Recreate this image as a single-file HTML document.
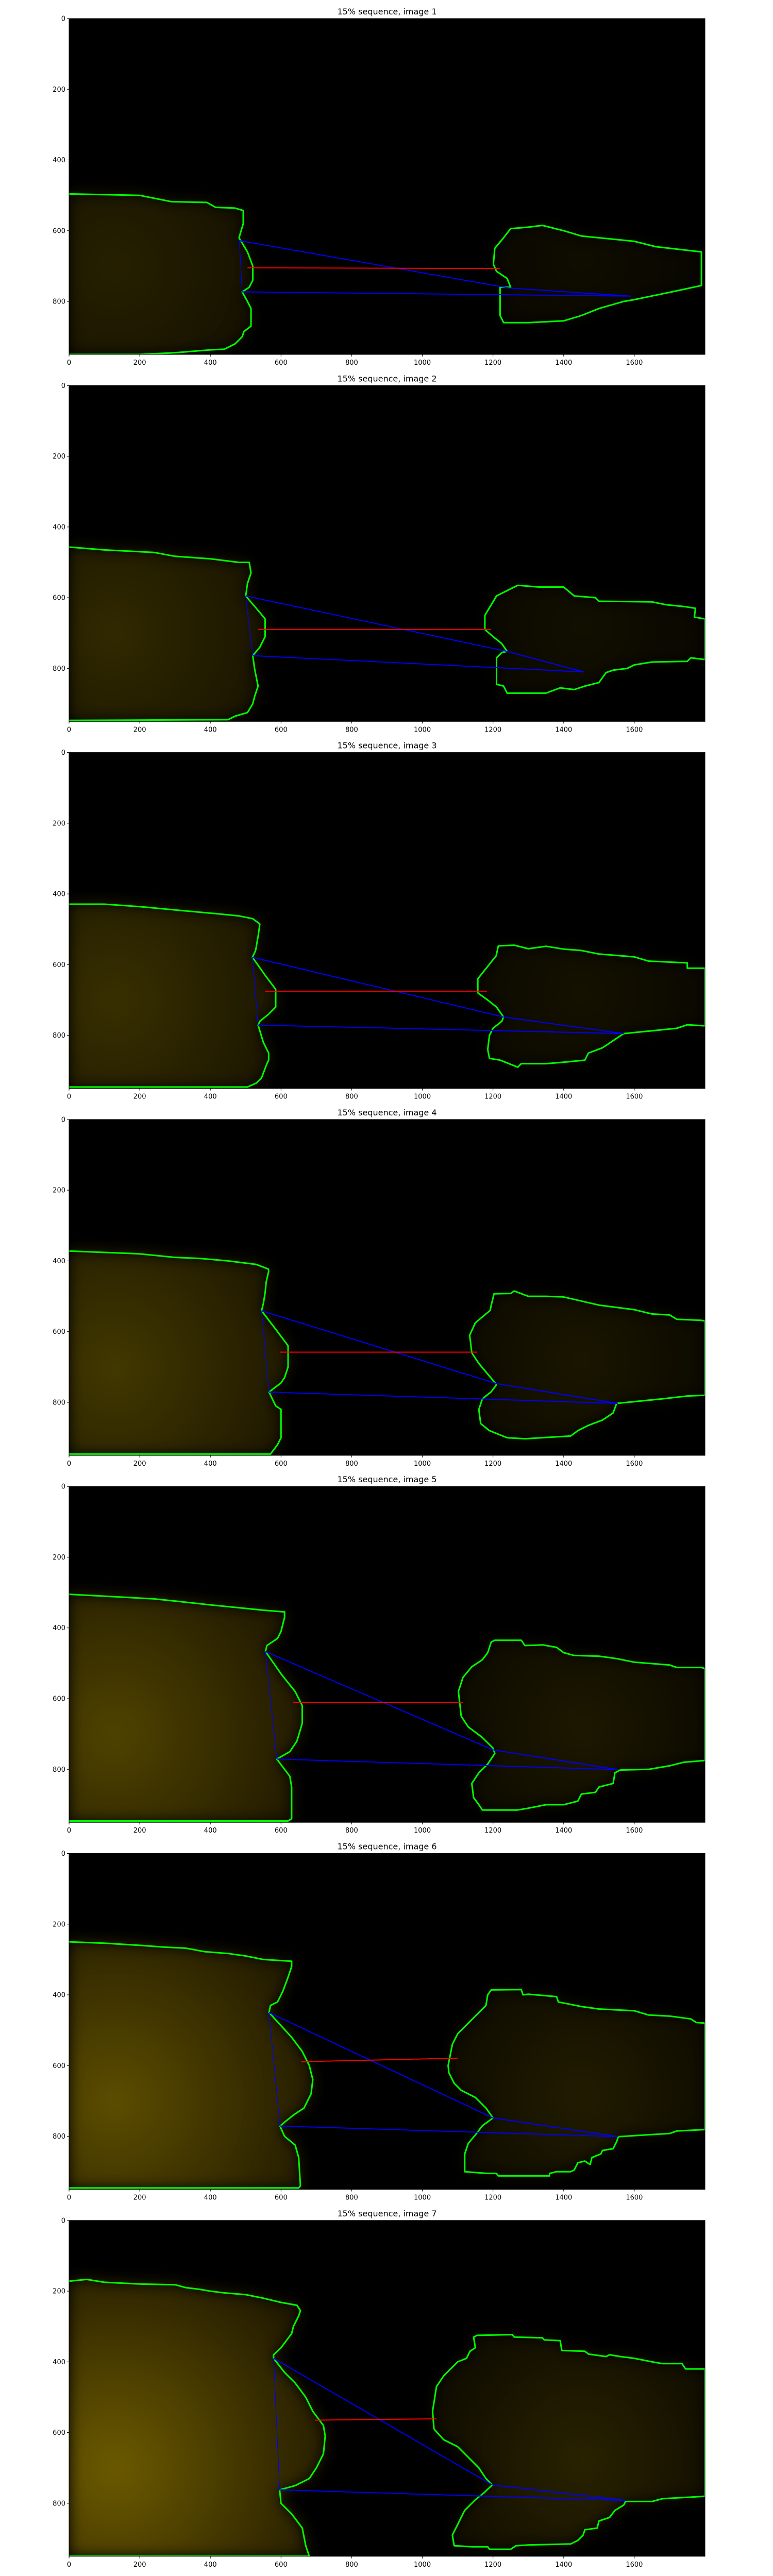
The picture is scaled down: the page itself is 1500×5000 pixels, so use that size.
<!DOCTYPE html>
<html><head><meta charset="utf-8"><style>
html,body{margin:0;padding:0;background:#fff;}
svg{display:block;}
text{font-family:"DejaVu Sans","Liberation Sans",sans-serif;fill:#000;}
</style></head><body>
<svg id="fig" width="1500" height="5000" viewBox="0 0 1500 5000" xmlns="http://www.w3.org/2000/svg">
<defs>
<filter id="blur" x="-20%" y="-20%" width="140%" height="140%"><feGaussianBlur stdDeviation="14"/></filter>
</defs>
</svg>
<script>
const NS = "http://www.w3.org/2000/svg";
const xTicks = [0,200,400,600,800,1000,1200,1400,1600];
const yTicks = [0,200,400,600,800];
const imageLabels = ["15% sequence, image 1","15% sequence, image 2","15% sequence, image 3","15% sequence, image 4","15% sequence, image 5","15% sequence, image 6","15% sequence, image 7"];
const glowLeft = [0.15,0.19,0.22,0.26,0.31,0.36,0.42];
const glowRight = [0.06,0.07,0.08,0.1,0.11,0.13,0.16];
// left object contours [x,y] in image pixels
const leftContours = [
[[0,496],[200,500],[290,518],[390,520],[415,534],[470,536],[493,543],[493,580],[481,620],[505,660],[520,700],[520,740],[510,760],[490,773],[505,800],[515,820],[515,870],[495,885],[490,900],[470,920],[440,935],[400,937],[300,945],[200,950],[0,950]],
[[0,457],[100,465],[240,472],[300,483],[400,490],[480,500],[510,500],[515,530],[505,560],[500,595],[530,630],[555,660],[555,710],[540,740],[520,764],[525,800],[535,850],[525,880],[520,900],[505,925],[470,935],[450,945],[0,947]],
[[0,429],[100,429],[200,436],[330,448],[420,456],[480,462],[520,470],[540,485],[535,520],[528,560],[519,579],[555,630],[585,670],[585,720],[565,740],[540,760],[535,771],[550,820],[565,850],[565,870],[560,880],[545,920],[530,935],[505,946],[0,946]],
[[0,372],[200,380],[300,390],[370,393],[450,400],[530,410],[564,423],[565,430],[558,460],[555,490],[550,520],[545,541],[590,600],[620,640],[620,700],[610,730],[600,745],[566,771],[585,810],[600,820],[600,900],[590,920],[570,946],[0,946]],
[[0,305],[150,313],[240,318],[300,324],[400,335],[470,342],[550,350],[610,355],[610,370],[600,410],[590,430],[560,450],[556,467],[600,530],[640,580],[660,620],[660,670],[645,720],[625,750],[588,771],[625,820],[630,850],[630,940],[620,946],[0,946]],
[[0,250],[100,254],[200,260],[270,265],[330,268],[385,278],[450,283],[500,290],[550,300],[630,305],[630,320],[620,350],[605,390],[590,420],[570,430],[566,450],[630,520],[660,560],[680,600],[690,640],[685,680],[665,720],[635,740],[610,760],[597,771],[610,800],[640,825],[650,860],[655,940],[650,946],[0,946]],
[[0,172],[50,167],[100,175],[200,180],[300,182],[330,190],[370,195],[400,200],[440,205],[500,210],[550,220],[600,232],[645,240],[655,255],[650,270],[635,300],[630,320],[615,340],[600,360],[579,380],[579,390],[610,430],[640,460],[670,500],[690,540],[720,580],[725,610],[720,660],[700,700],[680,730],[640,750],[596,762],[600,800],[630,830],[660,870],[670,920],[680,950],[0,950]]
];
// right object contours
const rightContours = [
[[1201,695],[1205,650],[1230,620],[1250,594],[1300,590],[1340,585],[1400,600],[1450,615],[1500,620],[1600,630],[1660,645],[1790,660],[1790,755],[1720,770],[1600,795],[1570,800],[1500,820],[1450,840],[1400,855],[1300,860],[1230,860],[1220,840],[1220,760],[1250,760],[1240,735],[1210,715],[1201,695]],
[[1177,690],[1177,650],[1210,595],[1250,575],[1270,565],[1330,570],[1400,570],[1430,595],[1490,600],[1500,610],[1650,612],[1690,620],[1740,625],[1773,630],[1770,655],[1800,660],[1800,775],[1760,770],[1750,780],[1650,782],[1600,790],[1580,800],[1540,805],[1520,812],[1500,840],[1460,850],[1430,860],[1390,855],[1350,870],[1240,870],[1230,850],[1210,845],[1210,770],[1225,755],[1240,752],[1225,730],[1200,710],[1177,690]],
[[1157,680],[1157,640],[1209,575],[1215,547],[1260,545],[1300,555],[1350,548],[1400,556],[1450,560],[1500,570],[1600,578],[1640,590],[1750,595],[1750,610],[1800,610],[1800,773],[1750,770],[1720,780],[1670,785],[1620,790],[1570,795],[1540,815],[1510,835],[1470,850],[1460,870],[1410,875],[1350,880],[1280,880],[1270,890],[1220,870],[1190,865],[1185,840],[1190,800],[1200,780],[1225,760],[1230,748],[1210,720],[1185,700],[1157,680]],
[[1140,660],[1134,610],[1150,575],[1192,540],[1195,525],[1203,493],[1250,492],[1260,485],[1300,500],[1350,500],[1400,502],[1500,525],[1600,538],[1650,550],[1700,553],[1720,565],[1790,568],[1800,570],[1800,780],[1750,782],[1680,790],[1550,803],[1540,830],[1510,850],[1470,865],[1440,880],[1420,895],[1290,903],[1240,900],[1190,880],[1165,860],[1160,820],[1170,790],[1195,770],[1210,750],[1185,720],[1160,690],[1140,660]],
[[1110,650],[1102,580],[1115,540],[1140,510],[1170,490],[1185,470],[1195,440],[1205,435],[1280,435],[1290,450],[1340,448],[1380,455],[1400,470],[1430,478],[1500,480],[1550,487],[1600,497],[1700,505],[1720,512],[1790,512],[1800,515],[1800,775],[1740,780],[1700,790],[1640,800],[1560,802],[1545,810],[1540,840],[1500,850],[1490,865],[1450,870],[1440,890],[1400,900],[1350,900],[1300,910],[1270,915],[1170,915],[1160,900],[1145,880],[1140,840],[1160,810],[1185,785],[1205,755],[1200,740],[1170,710],[1130,680],[1110,650]],
[[1075,620],[1073,600],[1085,540],[1100,510],[1130,480],[1160,450],[1180,430],[1185,400],[1195,386],[1280,385],[1285,400],[1300,398],[1380,405],[1385,420],[1410,425],[1450,433],[1500,440],[1600,445],[1640,457],[1700,460],[1760,468],[1775,478],[1800,480],[1800,781],[1720,785],[1700,792],[1650,795],[1555,801],[1550,815],[1540,835],[1510,840],[1505,850],[1480,860],[1475,880],[1460,870],[1440,875],[1430,895],[1420,900],[1380,900],[1360,905],[1360,912],[1215,912],[1210,905],[1185,905],[1120,900],[1120,850],[1130,820],[1155,790],[1170,770],[1200,748],[1180,720],[1150,690],[1110,670],[1090,650],[1075,620]],
[[1033,590],[1029,540],[1040,470],[1060,440],[1080,420],[1100,400],[1125,390],[1135,370],[1150,360],[1145,330],[1155,325],[1255,323],[1260,330],[1340,332],[1345,338],[1390,340],[1395,368],[1460,370],[1470,378],[1520,385],[1530,380],[1560,385],[1600,390],[1650,400],[1680,405],[1735,405],[1745,420],[1800,420],[1800,780],[1770,782],[1680,787],[1650,795],[1575,795],[1570,805],[1545,820],[1530,840],[1500,850],[1495,870],[1460,875],[1455,890],[1440,905],[1420,915],[1300,918],[1265,920],[1250,930],[1190,930],[1185,923],[1140,923],[1090,920],[1085,890],[1100,860],[1120,820],[1150,790],[1175,770],[1198,748],[1180,730],[1160,700],[1130,670],[1100,640],[1060,620],[1033,590]]
];
// measurement points: left-top, mid, right, left-bottom
const leftTop = [[482,628],[500,595],[519,579],[545,541],[556,467],[566,450],[579,390]];
const midPt = [[1245,762],[1240,752],[1230,748],[1210,747],[1200,745],[1200,748],[1198,748]];
const rightPt = [[1590,785],[1457,810],[1570,795],[1553,803],[1555,801],[1555,801],[1577,792]];
const leftBottom = [[490,773],[520,764],[535,771],[566,771],[588,771],[597,771],[596,762]];
const redStart = [[505,705],[535,690],[555,675],[597,658],[634,611],[657,589],[696,565]];
const redEnd = [[1220,707],[1195,690],[1183,675],[1155,658],[1114,611],[1100,579],[1040,561]];

const AX_L = 134, AX_W = 1234, AX_H = 652, TOP0 = 36, STEP = 712.3, XMAX = 1800, YMAX = 950;
const svg = document.getElementById('fig');
function el(tag, attrs, parent){const e=document.createElementNS(NS,tag);for(const k in attrs)e.setAttribute(k,attrs[k]);(parent||svg).appendChild(e);return e;}
function pts(arr,sx,sy){return arr.map(p=>sx(p[0]).toFixed(1)+','+sy(p[1]).toFixed(1)).join(' ');}

imageLabels.forEach((label,i)=>{
  const top = TOP0 + STEP*i;
  const sx = v => AX_L + v/XMAX*AX_W;
  const sy = v => top + v/YMAX*AX_H;
  const g = el('g',{});
  
  
  const clipId='clip'+i;
  const cp=el('clipPath',{id:clipId},g);
  el('rect',{x:AX_L,y:top,width:AX_W,height:AX_H},cp);
  const t=el('text',{x:AX_L+AX_W/2,y:top-8,'font-size':16,'text-anchor':'middle'},g);
  t.textContent=label;
  
  
  const plot=el('g',{'clip-path':'url(#'+clipId+')'},g);
  
  
  el('rect',{x:AX_L,y:top,width:AX_W,height:AX_H,fill:'#000'},plot);
  const gl='gl'+i, gr='gr'+i;
  const defs=el('defs',{},plot);
  const lg=el('radialGradient',{id:gl,cx:sx(130),cy:sy(700),r:AX_W*0.42,gradientUnits:'userSpaceOnUse'},defs);
  el('stop',{offset:'0','stop-color':'rgb(255,215,0)','stop-opacity':glowLeft[i]},lg);
  el('stop',{offset:'1','stop-color':'rgb(255,200,0)','stop-opacity':glowLeft[i]*0.2},lg);
  const rg=el('radialGradient',{id:gr,cx:sx(1450),cy:sy(680),r:AX_W*0.3,gradientUnits:'userSpaceOnUse'},defs);
  el('stop',{offset:'0','stop-color':'rgb(255,215,0)','stop-opacity':glowRight[i]},rg);
  el('stop',{offset:'1','stop-color':'rgb(255,200,0)','stop-opacity':glowRight[i]*0.25},rg);
  const lb=el('polygon',{points:pts(leftContours[i],sx,sy),fill:'url(#'+gl+')',filter:'url(#blur)'},plot);
  
  
  const rb=el('polygon',{points:pts(rightContours[i],sx,sy),fill:'url(#'+gr+')',filter:'url(#blur)'},plot);
  
  
  const lc=el('polyline',{points:pts(leftContours[i],sx,sy),fill:'none',stroke:'#00ff00','stroke-width':3,'stroke-linejoin':'round'},plot);
  
  
  const rc=el('polyline',{points:pts(rightContours[i],sx,sy),fill:'none',stroke:'#00ff00','stroke-width':3,'stroke-linejoin':'round'},plot);
  
  
  const b1=el('polyline',{points:pts([leftTop[i],midPt[i],rightPt[i],leftBottom[i]],sx,sy),fill:'none',stroke:'#0000ff','stroke-width':2},plot);
  
  
  const b2=el('line',{x1:sx(leftTop[i][0]),y1:sy(leftTop[i][1]),x2:sx(leftBottom[i][0]),y2:sy(leftBottom[i][1]),stroke:'#0000ff','stroke-width':1.2},plot);
  
  
  const r=el('line',{x1:sx(redStart[i][0]),y1:sy(redStart[i][1]),x2:sx(redEnd[i][0]),y2:sy(redEnd[i][1]),stroke:'#ff0000','stroke-width':2},plot);
  
  
  el('rect',{x:AX_L,y:top,width:AX_W,height:AX_H,fill:'none',stroke:'#000','stroke-width':1},g);
  xTicks.forEach(v=>{
    el('line',{x1:sx(v),y1:top+AX_H,x2:sx(v),y2:top+AX_H+4,stroke:'#000','stroke-width':1},g);
    const tx=el('text',{x:sx(v),y:top+AX_H+20,'font-size':13,'text-anchor':'middle'},g);
    tx.textContent=v;
    
    
  });
  yTicks.forEach(v=>{
    el('line',{x1:AX_L-4,y1:sy(v),x2:AX_L,y2:sy(v),stroke:'#000','stroke-width':1},g);
    const ty=el('text',{x:AX_L-7,y:sy(v)+4.5,'font-size':13,'text-anchor':'end'},g);
    ty.textContent=v;
    
    
  });
});
</script>
</body></html>
